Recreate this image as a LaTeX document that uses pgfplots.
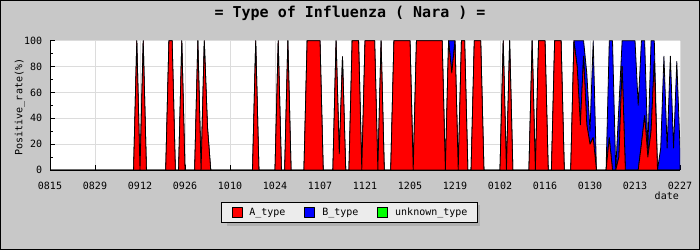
\documentclass[border=0pt]{standalone}
\usepackage{fontspec}
\setmainfont{DejaVu Sans Mono}
\setmonofont{DejaVu Sans Mono}
\usepackage{pgfplots}
\usepackage{pgfplotstable}
\pgfplotsset{compat=1.18}
\definecolor{bggray}{RGB}{200,200,200}
\definecolor{gridgray}{RGB}{220,220,220}
\definecolor{leggray}{RGB}{236,236,236}
\definecolor{shadowgray}{RGB}{176,176,176}
\definecolor{Ared}{RGB}{255,0,0}
\definecolor{Bblue}{RGB}{0,0,255}
\definecolor{Ugreen}{RGB}{0,255,0}

\pgfplotstableread{
day A B
0 0 0
1 0 0
2 0 0
3 0 0
4 0 0
5 0 0
6 0 0
7 0 0
8 0 0
9 0 0
10 0 0
11 0 0
12 0 0
13 0 0
14 0 0
15 0 0
16 0 0
17 0 0
18 0 0
19 0 0
20 0 0
21 0 0
22 0 0
23 0 0
24 0 0
25 0 0
26 0 0
27 100 0
28 0 0
29 100 0
30 0 0
31 0 0
32 0 0
33 0 0
34 0 0
35 0 0
36 0 0
37 100 0
38 100 0
39 0 0
40 0 0
41 100 0
42 0 0
43 0 0
44 0 0
45 0 0
46 100 0
47 0 0
48 100 0
49 33 0
50 0 0
51 0 0
52 0 0
53 0 0
54 0 0
55 0 0
56 0 0
57 0 0
58 0 0
59 0 0
60 0 0
61 0 0
62 0 0
63 0 0
64 100 0
65 0 0
66 0 0
67 0 0
68 0 0
69 0 0
70 0 0
71 100 0
72 0 0
73 0 0
74 100 0
75 0 0
76 0 0
77 0 0
78 0 0
79 0 0
80 100 0
81 100 0
82 100 0
83 100 0
84 100 0
85 0 0
86 0 0
87 0 0
88 0 0
89 100 0
90 12.5 0
91 87.5 0
92 0 0
93 0 0
94 100 0
95 100 0
96 100 0
97 0 0
98 100 0
99 100 0
100 100 0
101 100 0
102 0 0
103 100 0
104 0 0
105 0 0
106 0 0
107 100 0
108 100 0
109 100 0
110 100 0
111 100 0
112 100 0
113 0 0
114 100 0
115 100 0
116 100 0
117 100 0
118 100 0
119 100 0
120 100 0
121 100 0
122 100 0
123 0 0
124 100 0
125 75 25
126 100 0
127 0 0
128 100 0
129 100 0
130 0 0
131 0 0
132 100 0
133 100 0
134 100 0
135 0 0
136 0 0
137 0 0
138 0 0
139 0 0
140 0 0
141 100 0
142 0 0
143 100 0
144 0 0
145 0 0
146 0 0
147 0 0
148 0 0
149 0 0
150 100 0
151 0 0
152 100 0
153 100 0
154 100 0
155 0 0
156 0 0
157 100 0
158 100 0
159 100 0
160 0 0
161 0 0
162 0 0
163 100 0
164 80 20
165 35 65
166 88 12
167 35 40
168 20 10
169 25 75
170 0 0
171 0 0
172 0 0
173 0 0
174 25 75
175 0 100
176 0 0
177 10 40
178 80 20
179 0 100
180 0 100
181 0 100
182 0 100
183 0 50
184 20 80
185 42 58
186 10 7
187 30 70
188 84 16
189 0 0
190 0 17
191 0 88
192 0 17
193 0 88
194 0 17
195 0 84
196 0 17
}\flu

\begin{document}
\begin{tikzpicture}
\fill[bggray] (0,0) rectangle (700bp,250bp);
\draw[black, line width=1bp] (0.5bp,0.5bp) rectangle (699.5bp,249.5bp);
\useasboundingbox (0,0) rectangle (700bp,250bp);
% legend shadow
\fill[shadowgray] (226.5bp,23.5bp) rectangle (479.5bp,44.5bp);
\node[font=\fontsize{15bp}{18bp}\selectfont\bfseries, anchor=center] at (350bp,237bp) {= Type of Influenza ( Nara ) =};
\begin{axis}[
  at={(50bp,80bp)}, anchor=south west,
  scale only axis, width=630bp, height=129.3bp,
  xmin=0, xmax=196, ymin=0, ymax=100,
  axis background/.style={fill=white},
  axis lines*=left, axis line style={-, black, line width=1bp},
  xtick={0,14,...,196},
  xticklabels={0815,0829,0912,0926,1010,1024,1107,1121,1205,1219,0102,0116,0130,0213,0227},
  ytick={0,20,...,100},
  minor y tick num=1,
  grid=major, major grid style={gridgray, line width=1bp},
  tick align=inside, major tick length=5bp, minor tick length=3bp,
  tick style={black, line width=1bp},
  /pgf/number format/assume math mode=true,
  font=\fontsize{10bp}{12bp}\selectfont,
  xticklabel style={yshift=-8.8bp},
  yticklabel style={xshift=-4.3bp},
  xlabel={date},
  xlabel style={at={(axis description cs:0.979,-0.201)}, anchor=center},
  ylabel={Positive\_rate(\%)},
  ylabel style={at={(axis description cs:-0.0481,0.487)}, anchor=center},
  stack plots=y,
  legend columns=3,
  legend image code/.code={\draw[#1, draw=black, line width=0.8bp] (0bp,-5bp) rectangle (10bp,5bp);},
  legend style={at={(0.4754,-0.3287)}, anchor=center, fill=leggray, draw=black, line width=1bp,
    inner xsep=10bp, inner ysep=5bp,
    nodes={inner sep=0pt},
    /tikz/every odd column/.append style={column sep=7bp},
    /tikz/every even column/.append style={column sep=19bp}},
]
\addplot[fill=Ared, draw=black, line width=0.8bp, line join=round] table[x=day, y=A] {\flu} \closedcycle;
\addlegendentry{A\_type}
\addplot[fill=Bblue, draw=black, line width=0.8bp, line join=round] table[x=day, y=B] {\flu} \closedcycle;
\addlegendentry{B\_type}
\addlegendimage{fill=Ugreen, draw=black}
\addlegendentry{unknown\_type}
\end{axis}
\end{tikzpicture}
\end{document}
